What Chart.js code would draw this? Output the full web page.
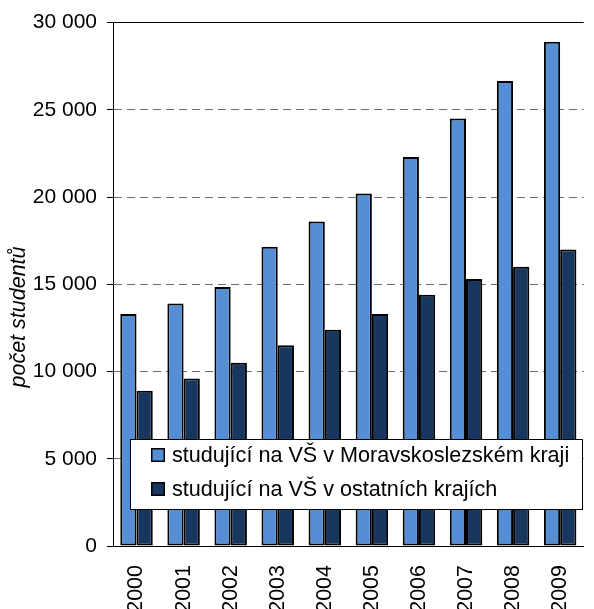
<!DOCTYPE html>
<html>
<head>
<meta charset="utf-8">
<script src="https://cdn.jsdelivr.net/npm/chart.js@4/dist/chart.umd.min.js"></script>
<style>
  html, body { margin: 0; padding: 0; background: #fff; overflow: hidden; }
  #chart { display: block; }
</style>
</head>
<body>
<canvas id="chart" width="597" height="630"></canvas>
<script>
const years = ['2000', '2001', '2002', '2003', '2004', '2005', '2006', '2007', '2008', '2009'];
const moravskoslezsky = [13300, 13900, 14850, 17150, 18600, 20200, 22300, 24500, 26650, 28900];
const ostatniKraje = [8900, 9600, 10500, 11500, 12400, 13300, 14400, 15300, 16000, 17000];
const seriesNames = ['studující na VŠ v Moravskoslezském kraji', 'studující na VŠ v ostatních krajích'];
const seriesColors = ['#558ed5', '#17375e'];
const yTicks = [0, 5000, 10000, 15000, 20000, 25000, 30000];
const yTitle = 'počet studentů';

const FONT = '"Liberation Sans", Arial, sans-serif';

function fmt(v) {
    return String(v).replace(/\B(?=(\d{3})+(?!\d))/g, ' ');
}

// legend box drawn inside the plot, over the bars
const boxLegend = {
    id: 'boxLegend',
    afterDatasetsDraw(chart) {
        const ctx = chart.ctx;
        ctx.save();
        ctx.fillStyle = '#fff';
        ctx.fillRect(130, 439.5, 452, 70);
        ctx.strokeStyle = '#000';
        ctx.lineWidth = 1;
        ctx.strokeRect(130.5, 439.5, 452, 70);
        ctx.font = '21.6px ' + FONT;
        ctx.textBaseline = 'middle';
        chart.data.datasets.forEach(function(ds, i) {
            const cy = 455 + i * 34;
            ctx.fillStyle = ds.backgroundColor;
            ctx.fillRect(151, cy - 7, 14, 14);
            ctx.lineWidth = 1.5;
            ctx.strokeStyle = '#000';
            ctx.strokeRect(151.75, cy - 6.25, 12.5, 12.5);
            ctx.fillStyle = '#000';
            ctx.fillText(ds.label, 172, cy + 1);
        });
        ctx.restore();
    }
};

// rotated y title, sits a bit below the plot centre like the original
const yTitlePlugin = {
    id: 'yTitlePlugin',
    afterDraw(chart) {
        const ctx = chart.ctx;
        ctx.save();
        ctx.translate(19, 317);
        ctx.rotate(-Math.PI / 2);
        ctx.font = 'italic 21.5px ' + FONT;
        ctx.fillStyle = '#000';
        ctx.textAlign = 'center';
        ctx.textBaseline = 'middle';
        ctx.fillText(yTitle, 0, 0);
        ctx.restore();
    }
};

new Chart(document.getElementById('chart'), {
    type: 'bar',
    data: {
        labels: years,
        datasets: [{
            label: seriesNames[0],
            data: moravskoslezsky,
            backgroundColor: seriesColors[0],
            borderColor: '#000',
            borderWidth: 2,
            borderSkipped: false
        }, {
            label: seriesNames[1],
            data: ostatniKraje,
            backgroundColor: seriesColors[1],
            borderColor: '#000',
            borderWidth: 2,
            borderSkipped: false
        }]
    },
    options: {
        responsive: false,
        animation: false,
        layout: { padding: { top: 22, right: 1, left: 0, bottom: 0 } },
        datasets: { bar: { categoryPercentage: 0.69, barPercentage: 1 } },
        plugins: {
            legend: { display: false },
            tooltip: { enabled: false }
        },
        scales: {
            x: {
                grid: { display: false },
                border: { display: true, color: '#000', width: 1 },
                ticks: {
                    autoSkip: false,
                    minRotation: 90,
                    maxRotation: 90,
                    padding: 11,
                    color: '#000',
                    font: { family: FONT, size: 21.5 }
                },
                afterFit(scale) { scale.height = 84; }
            },
            y: {
                min: 0,
                max: 30000,
                afterBuildTicks(scale) { scale.ticks = yTicks.map(v => ({ value: v })); },
                grid: {
                    color: ctx => ctx.tick && (ctx.tick.value === 30000 || ctx.tick.value === 0) ? '#000' : '#6e6e6e',
                    lineWidth: 1,
                    drawTicks: true,
                    tickLength: 6,
                    tickColor: '#000'
                },
                border: {
                    display: true,
                    color: '#000',
                    width: 1,
                    dash: ctx => ctx.tick && ctx.tick.value !== 30000 && ctx.tick.value !== 0 ? [8, 5] : []
                },
                ticks: {
                    padding: 10,
                    color: '#000',
                    font: { family: FONT, size: 21 },
                    callback: v => fmt(v)
                },
                afterFit(scale) { scale.width = 113; }
            }
        }
    },
    plugins: [boxLegend, yTitlePlugin]
});
</script>
</body>
</html>
